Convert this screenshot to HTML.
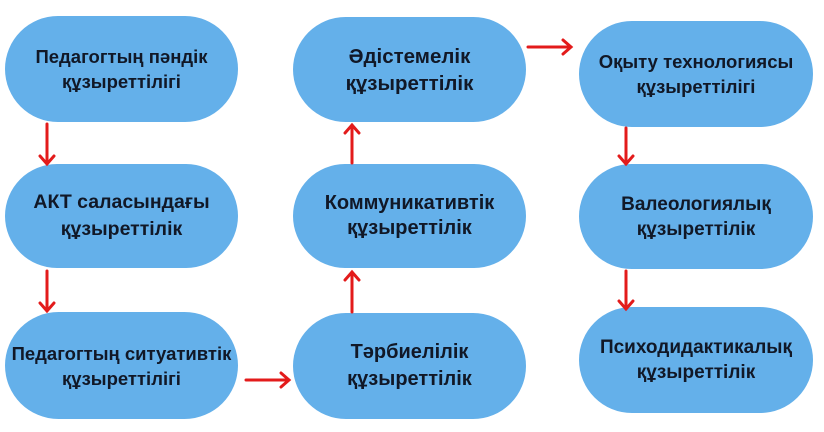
<!DOCTYPE html>
<html><head><meta charset="utf-8"><style>
body{margin:0;width:824px;height:432px;background:#fff;position:relative;overflow:hidden;font-family:"Liberation Sans","DejaVu Sans",sans-serif}
.n{position:absolute;background:#64b0ea;border-radius:54px;display:flex;align-items:center;justify-content:center;text-align:center;font-weight:bold;color:#111827;font-size:18.5px;line-height:25px}
svg{position:absolute;left:0;top:0}
</style></head><body>
<div class="n" style="left:5px;top:16px;width:233px;height:106px">Педагогтың пәндік<br>құзыреттілігі</div>
<div class="n" style="left:5px;top:164px;width:233px;height:104px;font-size:19.5px;line-height:27px">АКТ саласындағы<br>құзыреттілік</div>
<div class="n" style="left:5px;top:312px;width:233px;height:107px;font-size:18.5px">Педагогтың ситуативтік<br>құзыреттілігі</div>
<div class="n" style="left:293px;top:17px;width:233px;height:105px;font-size:20.5px;line-height:27px">Әдістемелік<br>құзыреттілік</div>
<div class="n" style="left:293px;top:164px;width:233px;height:104px;font-size:20px">Коммуникативтік<br>құзыреттілік</div>
<div class="n" style="left:293px;top:313px;width:233px;height:106px;font-size:20px;line-height:27px">Тәрбиелілік<br>құзыреттілік</div>
<div class="n" style="left:579px;top:21px;width:234px;height:106px">Оқыту технологиясы<br>құзыреттілігі</div>
<div class="n" style="left:579px;top:164px;width:234px;height:105px;font-size:19px">Валеологиялық<br>құзыреттілік</div>
<div class="n" style="left:579px;top:307px;width:234px;height:106px;font-size:19px">Психодидактикалық<br>құзыреттілік</div>
<svg width="824" height="432" fill="none" stroke="#e31b1b" stroke-width="3" stroke-linecap="round">
<path d="M47 124V164M40 156L47 164L54 156"/>
<path d="M47 271V311M40 303L47 311L54 303"/>
<path d="M626 128V164M619 156L626 164L633 156"/>
<path d="M626 271V309M619 301L626 309L633 301"/>
<path d="M352 163V125M345 133L352 125L359 133"/>
<path d="M352 312V272M345 280L352 272L359 280"/>
<path d="M246 380H289M281 373L289 380L281 387"/>
<path d="M528 47H571M563 40L571 47L563 54"/>
</svg>
</body></html>
